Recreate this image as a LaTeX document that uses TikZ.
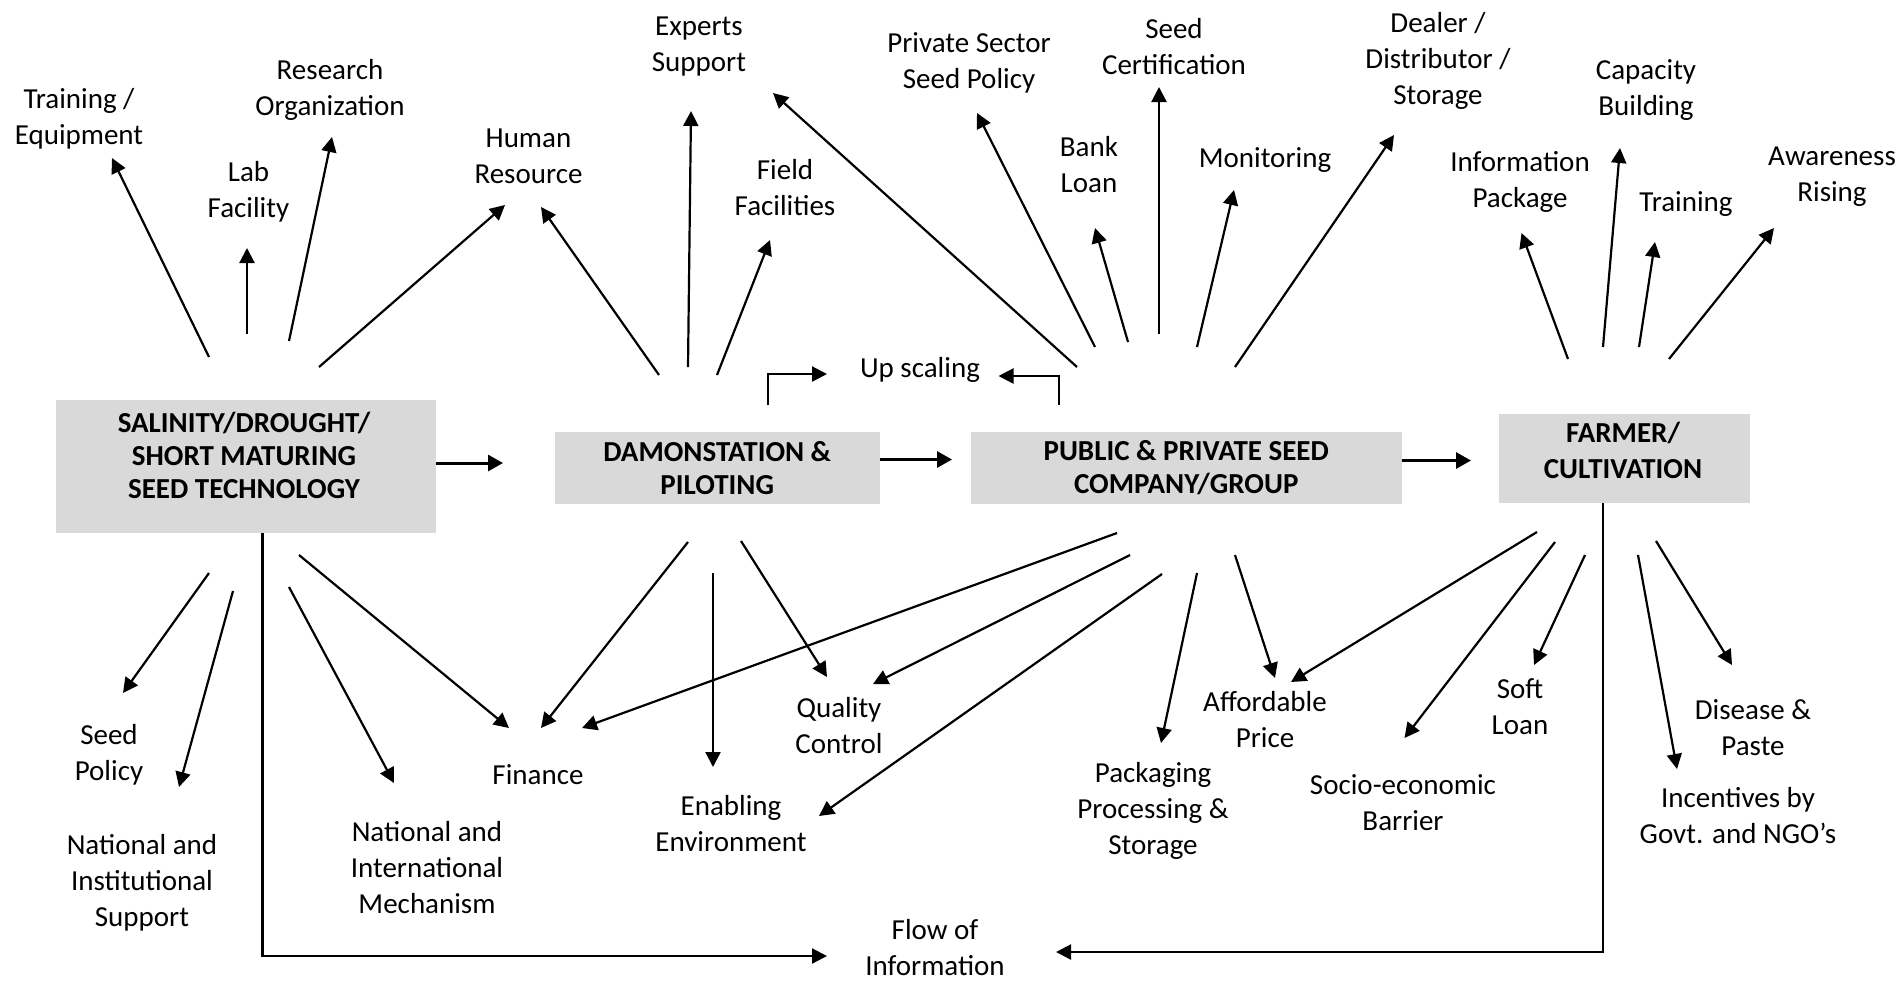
\documentclass[tikz,border=0pt]{standalone}
\usepackage{fontspec}
\setmainfont{Carlito}
\usetikzlibrary{arrows.meta}
\definecolor{boxgray}{HTML}{D9D9D9}
\begin{document}
\begin{tikzpicture}[x=0.5pt,y=-0.5pt,
  lbl/.style={align=center,inner sep=0pt,font=\fontsize{14.5}{18}\selectfont},
  boxnode/.style={fill=boxgray,draw=none,inner sep=0pt},
  boxtext/.style={align=center,inner sep=0pt,font=\fontsize{14.5}{16.5}\selectfont\bfseries},
  arr/.style={-{Triangle[length=7.5pt,width=7.5pt]},line width=1.1pt},
  harr/.style={-{Triangle[length=7.5pt,width=8pt]},line width=1.5pt},
]
\useasboundingbox (0,0) rectangle (1901,982);

% ---------- main boxes ----------
\node[boxnode,minimum width=190.1pt,minimum height=66.5pt] (A) at (245.9,466.5) {};
\node[boxtext] (At) at (244,455) {SALINITY/DROUGHT/\\SHORT MATURING\\SEED TECHNOLOGY};
\node[boxnode,boxtext,minimum width=162.75pt,minimum height=36pt] (B) at (717.25,468) {DAMONSTATION \&\\PILOTING};
\node[boxnode,boxtext,minimum width=215.25pt,minimum height=36pt] (C) at (1186.25,468) {PUBLIC \& PRIVATE SEED\\COMPANY/GROUP};
\node[boxnode,minimum width=125.75pt,minimum height=44.5pt] (D) at (1624.25,458.5) {};
\node[boxtext,font=\fontsize{14.5}{18}\selectfont\bfseries] (Dt) at (1623,450) {FARMER/\\CULTIVATION};

% ---------- labels ----------
\node[lbl] (train1) at (79,118.5) {Training /\\Equipment};
\node[lbl] (lab) at (248.5,191.5) {Lab\\Facility};
\node[lbl] (research) at (330,90) {Research\\Organization};
\node[lbl] (human) at (528.5,156.5) {Human\\Resource};
\node[lbl] (experts) at (699,46.5) {Experts\\Support};
\node[lbl] (field) at (785,188) {Field\\Facilities};
\node[lbl] (upscale) at (920,370) {Up scaling};
\node[lbl] (private) at (969,63) {Private Sector\\Seed Policy};
\node[lbl] (seedcert) at (1174,46.5) {Seed\\Certification};
\node[lbl] (bank) at (1089,165) {Bank\\Loan};
\node[lbl] (monitor) at (1265,160) {Monitoring};
\node[lbl] (dealer) at (1438,61) {Dealer /\\Distributor /\\Storage};
\node[lbl] (infopack) at (1520,181.5) {Information\\Package};
\node[lbl] (capacity) at (1646,90.5) {Capacity\\Building};
\node[lbl] (train2) at (1686,204) {Training};
\node[lbl] (aware) at (1832,176.5) {Awareness\\Rising};

\node[lbl] (seedpol) at (109,755) {Seed\\Policy};
\node[lbl] (natinst) at (142,883) {National and\\Institutional\\Support};
\node[lbl] (natintl) at (427,867.5) {National and\\International\\Mechanism};
\node[lbl] (finance) at (538,775) {Finance};
\node[lbl] (enabling) at (731,824) {Enabling\\Environment};
\node[lbl] (quality) at (839,725.5) {Quality\\Control};
\node[lbl] (flow) at (935,948) {Flow of\\Information};
\node[lbl] (packaging) at (1153,811) {Packaging\\Processing \&\\Storage};
\node[lbl] (afford) at (1265,719.5) {Affordable\\Price};
\node[lbl] (socio) at (1403,803) {Socio-economic\\Barrier};
\node[lbl] (soft) at (1520,706.5) {Soft\\Loan};
\node[lbl] (disease) at (1753,727.5) {Disease \&\\Paste};
\node[lbl] (incent) at (1738,815.5) {Incentives by\\Govt. and NGO’s};

% ---------- arrow end points ----------
\coordinate (s1) at (209,357);   \coordinate (t1) at (112,158);
\coordinate (s2) at (247,334);   \coordinate (t2) at (247,248);
\coordinate (s3) at (289,341);   \coordinate (t3) at (332,137);
\coordinate (s4) at (319,367);   \coordinate (t4) at (505,205);
\coordinate (s5) at (659,375);   \coordinate (t5) at (541,207);
\coordinate (s6) at (688,367);   \coordinate (t6) at (691,111);
\coordinate (s7) at (717,375);   \coordinate (t7) at (770,240);
\coordinate (s8) at (1077,367);  \coordinate (t8) at (773,93);
\coordinate (s9) at (1095,347);  \coordinate (t9) at (977,113);
\coordinate (s10) at (1128,342); \coordinate (t10) at (1095,228);
\coordinate (s11) at (1159,334); \coordinate (t11) at (1159,87);
\coordinate (s12) at (1197,347); \coordinate (t12) at (1234,190);
\coordinate (s13) at (1235,367); \coordinate (t13) at (1394,135);
\coordinate (s14) at (1568,359); \coordinate (t14) at (1521.5,233);
\coordinate (s15) at (1603,347); \coordinate (t15) at (1620,148);
\coordinate (s16) at (1639,347); \coordinate (t16) at (1655,242);
\coordinate (s17) at (1669,359); \coordinate (t17) at (1774,228);

\coordinate (b1) at (209,573);   \coordinate (e1) at (123,693);
\coordinate (b2) at (233,591);   \coordinate (e2) at (179,787);
\coordinate (b3) at (289,587);   \coordinate (e3) at (394,783);
\coordinate (b4) at (299,555);   \coordinate (e4) at (509,728);
\coordinate (b5) at (688,542);   \coordinate (e5) at (541,728);
\coordinate (b6) at (713,573);   \coordinate (e6) at (713,767);
\coordinate (b7) at (741,541);   \coordinate (e7) at (827,677);
\coordinate (b8) at (1117,533);  \coordinate (e8) at (582,728);
\coordinate (b9) at (1130,555);  \coordinate (e9) at (873,684);
\coordinate (b10) at (1162,574); \coordinate (e10) at (819,816);
\coordinate (b11) at (1197,573); \coordinate (e11) at (1161,743);
\coordinate (b12) at (1235,555); \coordinate (e12) at (1275,678);
\coordinate (b13) at (1537,532); \coordinate (e13) at (1291,682);
\coordinate (b14) at (1555,542); \coordinate (e14) at (1404.5,738);
\coordinate (b15) at (1585,555); \coordinate (e15) at (1534,665);
\coordinate (b16) at (1638,555); \coordinate (e16) at (1677,769);
\coordinate (b17) at (1656,541); \coordinate (e17) at (1732,665);

\coordinate (u1) at (768,405);   \coordinate (u1t) at (827,374);
\coordinate (u2) at (1059,405);  \coordinate (u2t) at (998.5,376);

\coordinate (ab) at (503,463);
\coordinate (bc) at (952,459.5);
\coordinate (cd) at (1471,460.5);

\coordinate (fa) at (262.4,956);  \coordinate (fat) at (827,956);
\coordinate (fd) at (1602.7,952); \coordinate (fdt) at (1056,952);

% ---------- connectors ----------
\foreach \i in {1,...,17} {
  \draw[arr] (s\i) -- (t\i);
  \draw[arr] (b\i) -- (e\i);
}
\draw[arr] (u1) |- (u1t);
\draw[arr] (u2) |- (u2t);

\draw[harr] (A.east |- ab) -- (ab);
\draw[harr] (B.east |- bc) -- (bc);
\draw[harr] (C.east |- cd) -- (cd);

\draw[arr] (A.south -| fa) |- (fat);
\draw[arr] (D.south -| fd) |- (fdt);
\end{tikzpicture}
\end{document}
